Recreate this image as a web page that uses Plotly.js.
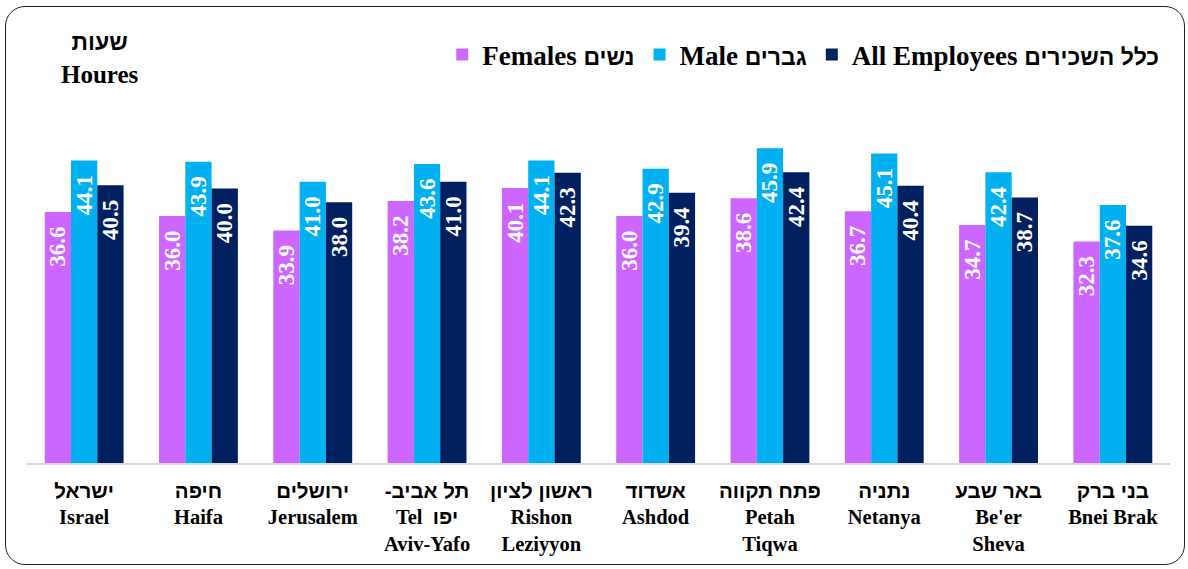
<!DOCTYPE html>
<html>
<head>
<meta charset="utf-8">
<script src="https://cdn.plot.ly/plotly-3.0.1.min.js"></script>
<style>
  body { margin: 0; background: #fff; }
  #plot { width: 1188px; height: 569px; }
  #frame {
    position: absolute; left: 5px; top: 6px; width: 1178px; height: 557px;
    border: 1.5px solid #222; border-radius: 20px; pointer-events: none;
  }
</style>
</head>
<body>
<div id="plot"></div>
<div id="frame"></div>
<script>
  // city names: Hebrew line(s) and English line(s)
  var citiesHe = ["ישראל", "חיפה", "ירושלים", "-תל אביב", "ראשון לציון",
                  "אשדוד", "פתח תקווה", "נתניה", "באר שבע", "בני ברק"];
  var citiesEn = ["Israel", "Haifa", "Jerusalem", "Tel  יפו<br>Aviv-Yafo", "Rishon<br>Leziyyon",
                  "Ashdod", "Petah<br>Tiqwa", "Netanya", "Be'er<br>Sheva", "Bnei Brak"];

  var females = [36.6, 36.0, 33.9, 38.2, 40.1, 36.0, 38.6, 36.7, 34.7, 32.3];
  var males   = [44.1, 43.9, 41.0, 43.6, 44.1, 42.9, 45.9, 45.1, 42.4, 37.6];
  var allEmp  = [40.5, 40.0, 38.0, 41.0, 42.3, 39.4, 42.4, 40.4, 38.7, 34.6];

  var serif = "Liberation Serif, Times New Roman, serif";

  // Hebrew glyphs need a font that has a bold Hebrew face
  function he(s, size) {
    var st = "font-family:Liberation Sans,DejaVu Sans,sans-serif;font-weight:bold";
    if (size) st += ";font-size:" + size + "px";
    return '<span style="' + st + '">' + s + '</span>';
  }

  var cities = citiesHe.map(function (h, i) {
    return he(h) + "<br>" + citiesEn[i].replace("יפו", he("יפו"));
  });

  function barTrace(vals, name, color) {
    return {
      x: cities,
      y: vals,
      type: "bar",
      name: name,
      marker: { color: color },
      text: vals.map(function (v) { return v.toFixed(1) + "\u00a0\u00a0"; }),
      textposition: "inside",
      insidetextanchor: "end",
      textangle: -90,
      constraintext: "none",
      textfont: { family: serif, size: 23, color: "#ffffff", weight: "bold" },
      hoverinfo: "y+name"
    };
  }

  var data = [
    barTrace(females, "Females " + he("נשים", 23), "#cc66ff"),
    barTrace(males, "Male " + he("גברים", 23), "#00b0f0"),
    barTrace(allEmp, "All Employees " + he("כלל השכירים", 23), "#002060")
  ];

  var layout = {
    width: 1188,
    height: 569,
    margin: { l: 27, r: 18, t: 120, b: 106 },
    paper_bgcolor: "#ffffff",
    plot_bgcolor: "#ffffff",
    barmode: "group",
    bargap: 0.31,
    bargroupgap: 0,
    font: { family: serif, color: "#000000" },
    showlegend: true,
    legend: {
      orientation: "h",
      x: 0.995, xanchor: "right",
      y: 1.19, yanchor: "middle",
      font: { family: serif, size: 27, weight: "bold", color: "#000" },
      itemwidth: 30,
      traceorder: "normal"
    },
    xaxis: {
      showline: true,
      linecolor: "#d9d9d9",
      linewidth: 2,
      ticks: "",
      tickfont: { family: serif, size: 20.5, weight: "bold", color: "#000" },
      ticklabelstandoff: 8,
      showgrid: false,
      fixedrange: true
    },
    yaxis: {
      range: [0, 50],
      showticklabels: false,
      showgrid: false,
      zeroline: false,
      ticks: "",
      fixedrange: true
    },
    annotations: [{
      text: he("שעות", 23) + "<br>Houres",
      xref: "paper", yref: "paper",
      x: 0.064, y: 1.18,
      xanchor: "center", yanchor: "middle",
      showarrow: false,
      font: { family: serif, size: 25, weight: "bold", color: "#000" }
    }]
  };

  Plotly.newPlot("plot", data, layout, { displayModeBar: false, staticPlot: true });
</script>
</body>
</html>
